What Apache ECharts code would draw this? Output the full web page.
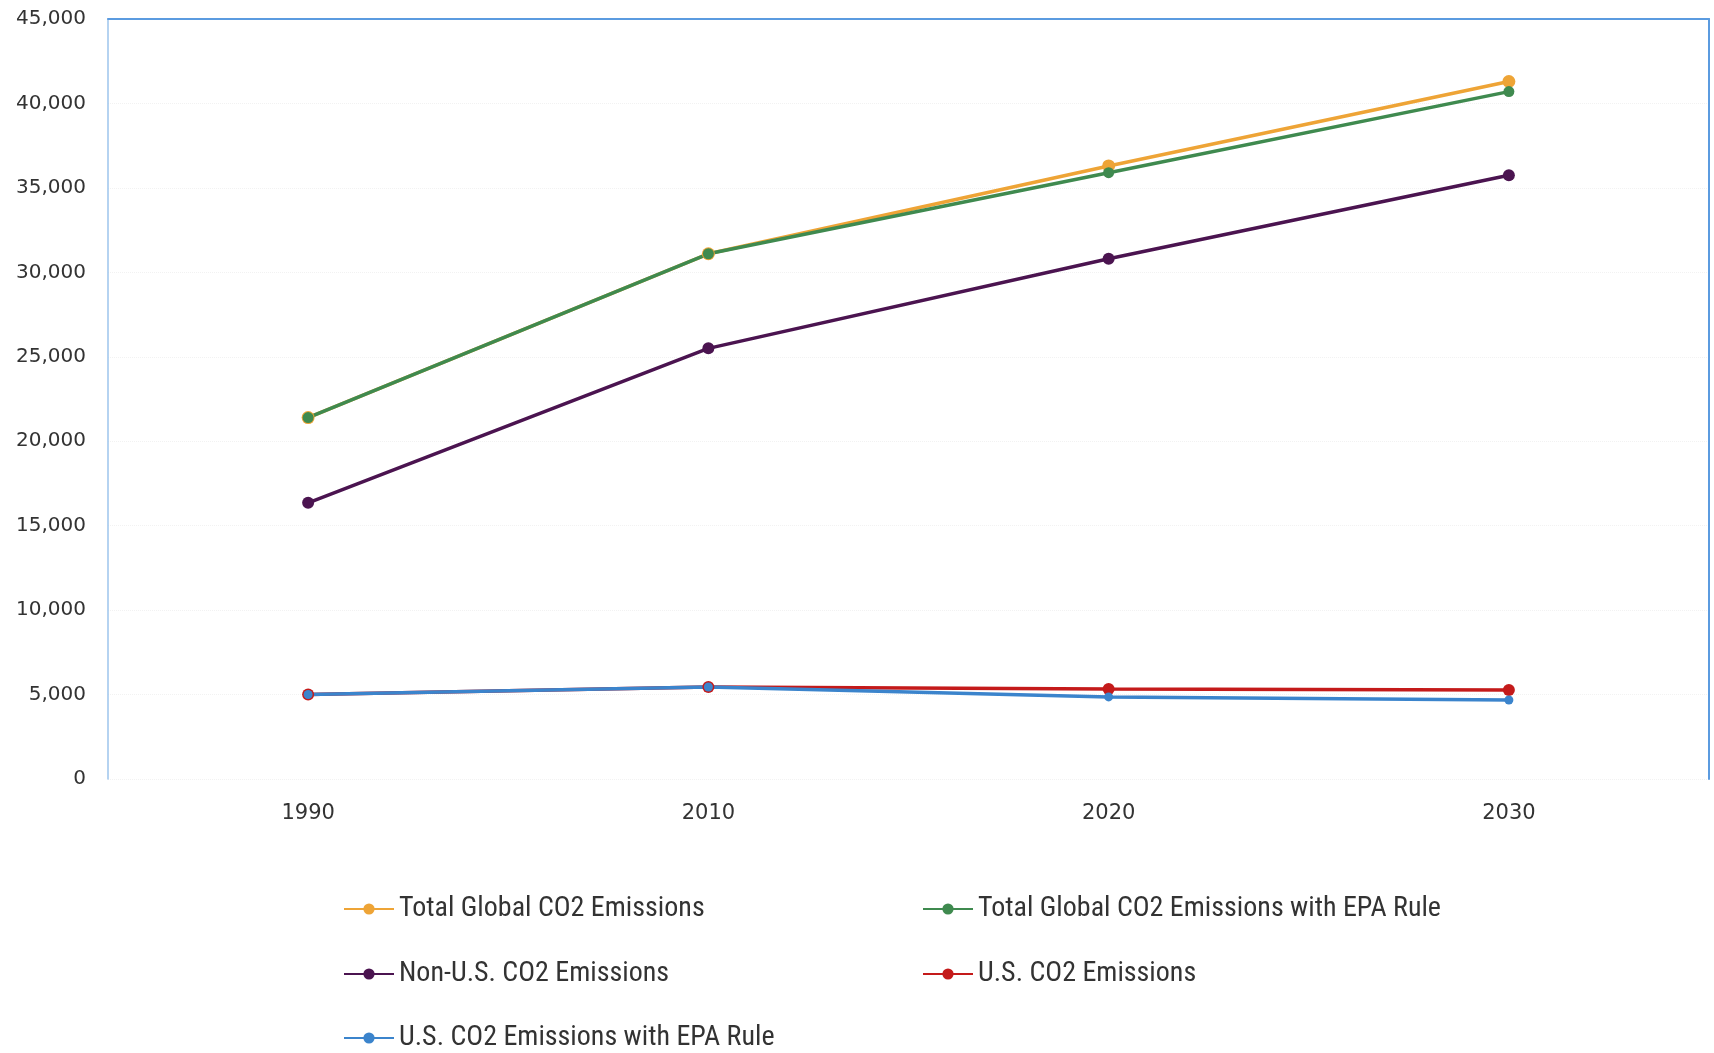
<!DOCTYPE html>
<html>
<head>
<meta charset="utf-8">
<script src="https://cdn.jsdelivr.net/npm/echarts@6/dist/echarts.min.js"></script>
<style>
  html, body { margin: 0; padding: 0; background: #fff; }
  #chart { width: 1714px; height: 1053px; }
</style>
</head>
<body>
<div id="chart"></div>
<script>
  // data
  var years = ['1990', '2010', '2020', '2030'];
  var totalGlobal = [21400, 31100, 36300, 41300];
  var totalGlobalEpa = [21400, 31100, 35900, 40700];
  var nonUs = [16350, 25500, 30800, 35750];
  var usEmissions = [5000, 5450, 5330, 5270];
  var usEmissionsEpa = [5000, 5450, 4860, 4680];
  var yTicks = [0, 45000, 5000]; // min, max, step

  var names = [
    'Total Global CO2 Emissions',
    'Total Global CO2 Emissions with EPA Rule',
    'Non-U.S. CO2 Emissions',
    'U.S. CO2 Emissions',
    'U.S. CO2 Emissions with EPA Rule'
  ];
  var colors = ['#eea436', '#3f8a4f', '#4b1450', '#c41a1a', '#3b84cc'];
  var values = [totalGlobal, totalGlobalEpa, nonUs, usEmissions, usEmissionsEpa];
  var symbolSizes = [13, 11, 12, 12, 9];

  var myChart = echarts.init(document.getElementById('chart'));

  var legendFont = {
    fontFamily: '"Liberation Sans Narrow", "Roboto Condensed", "Liberation Sans", sans-serif',
    fontSize: 28,
    color: '#333'
  };
  // legend slots: [left, top]
  var legendPos = [[338, 890], [917, 890], [338, 955], [917, 955], [338, 1019]];

  var option = {
    animation: false,
    backgroundColor: '#fff',
    grid: {
      left: 108,
      right: 5,
      top: 19,
      bottom: 274
    },
    legend: names.map(function (n, i) {
      return {
        data: [n],
        left: legendPos[i][0],
        top: legendPos[i][1],
        itemWidth: 50,
        itemHeight: 14,
        itemGap: 4,
        textStyle: legendFont
      };
    }),
    xAxis: [{
      type: 'category',
      data: years,
      position: 'bottom',
      axisLine: {show: false},
      axisTick: {show: false},
      axisLabel: {
        margin: 24,
        fontFamily: 'DejaVu Sans',
        fontSize: 21,
        color: '#333'
      }
    }, {
      type: 'category',
      data: years,
      position: 'top',
      axisLine: {show: true, onZero: false, lineStyle: {color: '#5b9be0', width: 2}},
      axisTick: {show: false},
      axisLabel: {show: false}
    }],
    yAxis: [{
      type: 'value',
      min: yTicks[0],
      max: yTicks[1],
      interval: yTicks[2],
      axisLine: {show: true, onZero: false, lineStyle: {color: '#9cc4ec', width: 1.5}},
      axisTick: {show: false},
      axisLabel: {
        margin: 22,
        fontFamily: 'DejaVu Sans',
        fontSize: 20,
        color: '#333',
        formatter: function (v) {
          return v.toLocaleString('en-US');
        }
      },
      splitLine: {
        show: true,
        lineStyle: {color: '#f2f2f2', type: 'dotted'}
      }
    }, {
      type: 'value',
      min: yTicks[0],
      max: yTicks[1],
      interval: yTicks[2],
      position: 'right',
      axisLine: {show: true, onZero: false, lineStyle: {color: '#5b9be0', width: 2}},
      axisTick: {show: false},
      axisLabel: {show: false},
      splitLine: {show: false}
    }],
    series: names.map(function (n, i) {
      return {
        name: n,
        type: 'line',
        data: values[i],
        xAxisIndex: 0,
        yAxisIndex: 0,
        symbol: 'circle',
        symbolSize: symbolSizes[i],
        lineStyle: {width: 3.5, color: colors[i]},
        itemStyle: {color: colors[i]}
      };
    })
  };

  myChart.setOption(option, true);
</script>
</body>
</html>
